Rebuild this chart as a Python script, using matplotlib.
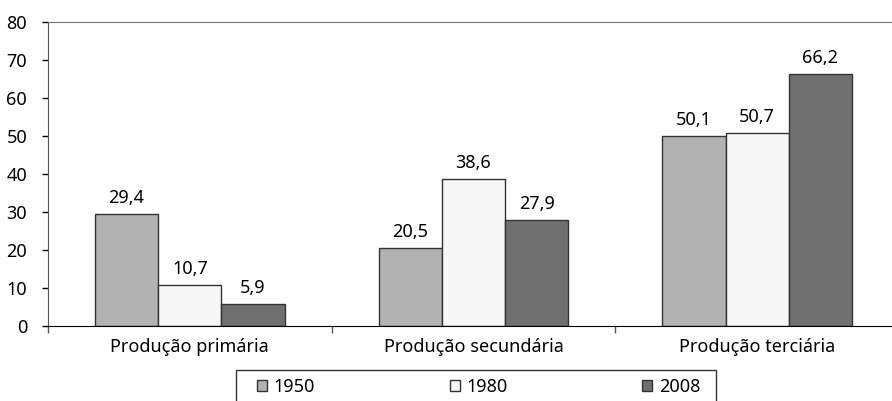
import matplotlib
matplotlib.use('Agg')
import matplotlib.pyplot as plt
from matplotlib.patches import Rectangle
import numpy as np

plt.rcParams['font.family'] = ['Noto Sans', 'DejaVu Sans']

categories = ['Produção primária', 'Produção secundária', 'Produção terciária']
years = ['1950', '1980', '2008']
v1950 = [29.4, 20.5, 50.1]
v1980 = [10.7, 38.6, 50.7]
v2008 = [5.9, 27.9, 66.2]
colors = ['#b2b2b2', '#f7f7f7', '#6f6f6f']

fs = 13
W, H = 892, 401
fig = plt.figure(figsize=(W / 100, H / 100), dpi=100)
ax = fig.add_axes([48 / W, 1 - 326 / H, 851 / W, 304 / H])

x = np.arange(len(categories))
bw = 0.223
for i, (vals, c, yr) in enumerate(zip([v1950, v1980, v2008], colors, years)):
    bars = ax.bar(x + (i - 1) * bw, vals, bw, color=c, edgecolor='#333333',
                  linewidth=1.0, label=yr, zorder=2)
    ax.bar_label(bars, [('%.1f' % v).replace('.', ',') for v in vals],
                 padding=5, fontsize=fs)

ax.set_xlim(-0.5, 2.5)
ax.set_ylim(0, 80)
ax.set_yticks(range(0, 81, 10))
ax.tick_params(axis='y', length=4, width=1, labelsize=fs, pad=11)

ax.set_xticks(x)
ax.set_xticklabels(categories, fontsize=fs)
ax.tick_params(axis='x', which='major', length=0, pad=9)
ax.set_xticks([-0.5, 0.5, 1.5, 2.5], minor=True)
ax.tick_params(axis='x', which='minor', length=5, width=1, color='#555555')

ax.spines['top'].set_color('#707070')
ax.spines['left'].set_color('#555555')
ax.spines['bottom'].set_color('black')
ax.spines['right'].set_visible(False)

# legend box, cut off at the bottom edge like the original
fig.patches.append(Rectangle((236 / W, -0.05), 480 / W, 0.05 + 1 - 370 / H,
                             transform=fig.transFigure, facecolor='none',
                             edgecolor='#333333', linewidth=1.0))
leg = fig.legend(loc='upper left', bbox_to_anchor=(257 / W, 1 - 378 / H, 443 / W, 0.0),
                 ncol=3, mode='expand', fontsize=fs, frameon=False,
                 handlelength=0.55, handleheight=0.55, handletextpad=0.35,
                 borderpad=0, borderaxespad=0)

fig.savefig('out.png', dpi=100)
